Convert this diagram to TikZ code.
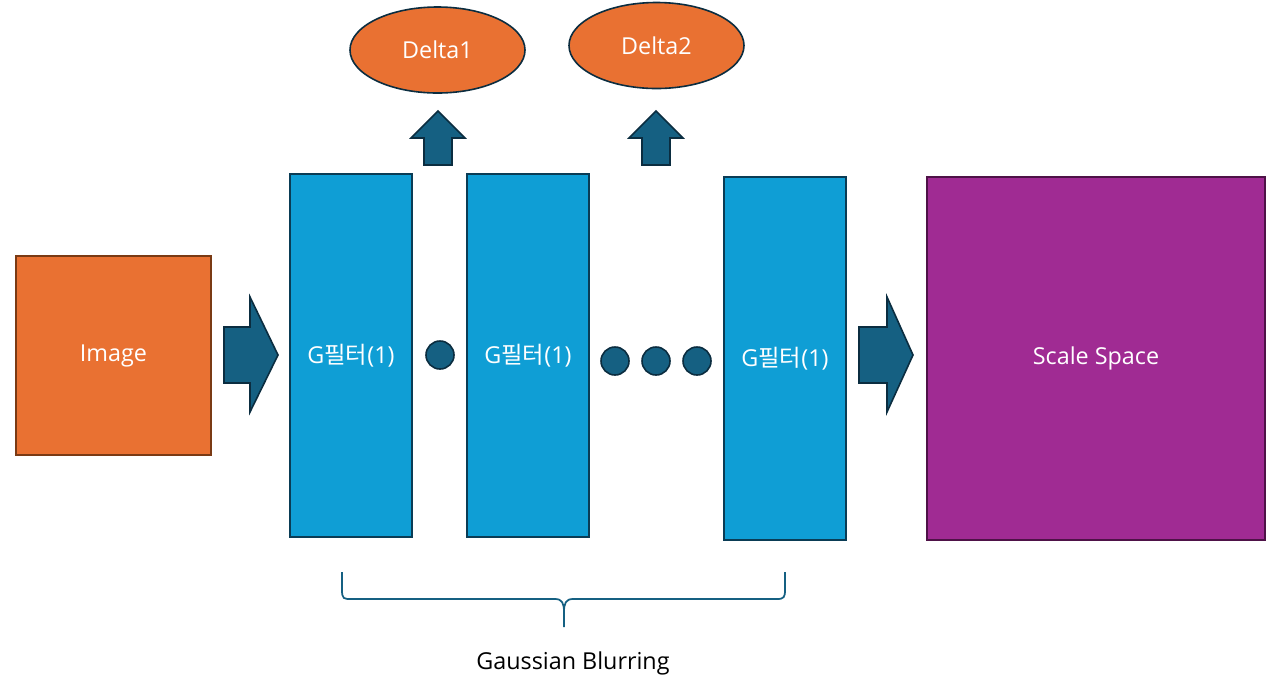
\documentclass[tikz,border=0pt]{standalone}
\usepackage{fontspec}
\setmainfont{Open Sans}
\newfontfamily\kr{Noto Sans CJK KR}
\usetikzlibrary{shapes.geometric}
\definecolor{orng}{HTML}{E97132}
\definecolor{orngd}{HTML}{7A3A14}
\definecolor{blu}{HTML}{0F9ED5}
\definecolor{blud}{HTML}{0A3C55}
\definecolor{navy}{HTML}{156082}
\definecolor{navyd}{HTML}{0B2D40}
\definecolor{purp}{HTML}{A02B93}
\definecolor{purpd}{HTML}{4E1247}
\begin{document}
\begin{tikzpicture}[x=0.75pt,y=-0.75pt,
  lbl/.style={text=white,font=\fontsize{17.5}{20}\selectfont},
  gbox/.style={draw=blud,fill=blu,line width=1.3pt,minimum width=122*0.75pt,minimum height=363*0.75pt,inner sep=0pt,lbl},
  dot/.style={circle,draw=navyd,fill=navy,line width=1.2pt,minimum size=28*0.75pt,inner sep=0pt},
  oval/.style={ellipse,draw=navyd,fill=orng,line width=1.2pt,minimum width=175*0.75pt,minimum height=86*0.75pt,inner sep=0pt,lbl},
  blockarr/.style={draw=navyd,fill=navy,line width=1.2pt,line join=miter}]
\useasboundingbox[fill=white] (0,0) rectangle (1272,683);
% Image
\node[draw=orngd,fill=orng,line width=1.2pt,minimum width=195*0.75pt,minimum height=199*0.75pt,inner sep=0pt,lbl] (img) at (113.5,355.5) {Image};
% right arrows
\draw[blockarr] (224,327) -- (250,327) -- (250,297) -- (278,355) -- (250,412) -- (250,383) -- (224,383) -- cycle;
\draw[blockarr] (859,327) -- (887,327) -- (887,297) -- (913,355) -- (887,412) -- (887,383) -- (859,383) -- cycle;
% G boxes
\node[gbox] (g1) at (351,355.5) {G{\kr 필터}(1)};
\node[gbox] (g2) at (528,355.5) {G{\kr 필터}(1)};
\node[gbox] (g3) at (785,358.5) {G{\kr 필터}(1)};
% dots
\node[dot] (d0) at (440,355) {};
\node[dot] (d1) at (615,361) {};
\node[dot] (d2) at (656,361) {};
\node[dot] (d3) at (697,361) {};
% up arrows
\draw[blockarr] (424,165) -- (424,138) -- (411,138) -- (438,111) -- (465,138) -- (452,138) -- (452,165) -- cycle;
\draw[blockarr] (642,165) -- (642,138) -- (629,138) -- (656,111) -- (683,138) -- (670,138) -- (670,165) -- cycle;
% ellipses
\node[oval] (e1) at (437.5,50) {Delta1};
\node[oval] (e2) at (656.5,45.5) {Delta2};
% scale space
\node[draw=purpd,fill=purp,line width=1.2pt,minimum width=338*0.75pt,minimum height=363*0.75pt,inner sep=0pt,lbl] (ss) at (1096,358.5) {Scale Space};
% brace
\draw[navy,line width=1.3pt] (342,572) -- (342,590) .. controls (342,599) and (344,599) .. (351,599) -- (555,599) .. controls (562,599) and (564,603) .. (564,612) -- (564,627);
\draw[navy,line width=1.3pt] (564,612) .. controls (564,603) and (566,599) .. (573,599) -- (777,599) .. controls (784,599) and (785,597) .. (785,590) -- (785,572);
\node[font=\fontsize{17.5}{20}\selectfont] (gb) at (573,663) {Gaussian Blurring};
\end{tikzpicture}
\end{document}
